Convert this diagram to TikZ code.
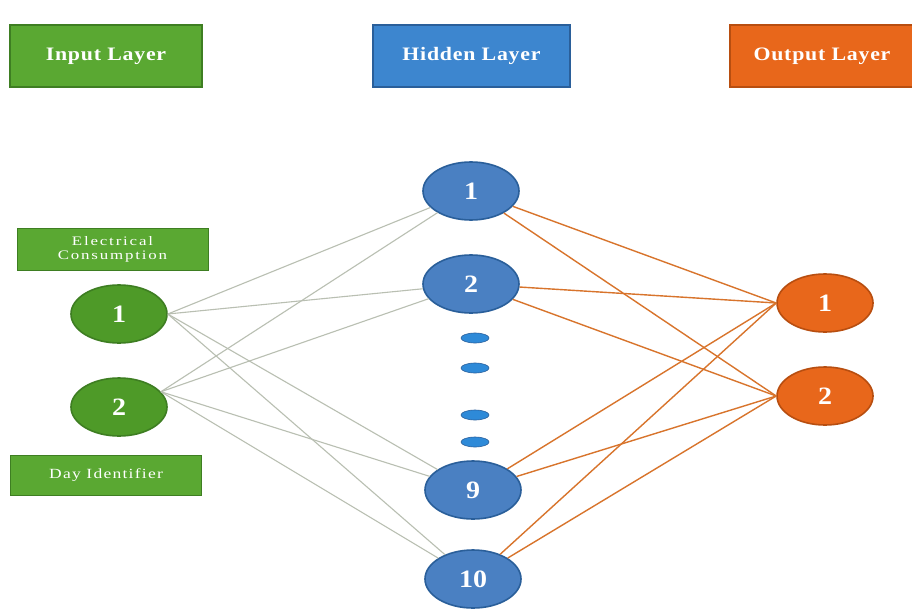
\documentclass[tikz,border=0pt]{standalone}
\usepackage{fontspec}
\setmainfont{Liberation Serif}
\usetikzlibrary{shapes.geometric}

\definecolor{ingreen}{HTML}{5AA832}
\definecolor{ingreendark}{HTML}{3E7E22}
\definecolor{nodegreen}{HTML}{4E9A28}
\definecolor{hidblue}{HTML}{3D86CF}
\definecolor{hidbluedark}{HTML}{2A5F9A}
\definecolor{nodeblue}{HTML}{4A80C2}
\definecolor{dotblue}{HTML}{2E8AD8}
\definecolor{outorange}{HTML}{E8671B}
\definecolor{outorangedark}{HTML}{B84E10}
\definecolor{linkgray}{HTML}{B9BFB2}
\definecolor{linkorange}{HTML}{D8742C}

\tikzset{
  header/.style={rectangle, minimum height=62pt, text=white,
    font=\bfseries\fontsize{19}{22}\selectfont\addfontfeatures{FakeStretch=1.15,LetterSpace=4},
    line width=1.2pt},
  tag/.style={rectangle, fill=ingreen, draw=ingreendark, line width=0.8pt,
    text=white, align=center, minimum width=191pt},
  neuron/.style={ellipse, minimum width=96pt, minimum height=58pt, inner sep=0pt,
    line width=1.6pt, text=white,
    font=\bfseries\fontsize{25}{27}\selectfont\addfontfeatures{FakeStretch=1.12}},
  innode/.style={neuron, fill=nodegreen, draw=ingreendark},
  hidnode/.style={neuron, fill=nodeblue, draw=hidbluedark},
  outnode/.style={neuron, fill=outorange, draw=outorangedark},
  gap/.style={ellipse, fill=dotblue, draw=hidbluedark, line width=0.6pt,
    minimum width=28pt, minimum height=10pt, inner sep=0pt},
  inlink/.style={draw=linkgray, line width=1.1pt},
  outlink/.style={draw=linkorange, line width=1.4pt}
}

\begin{document}
\begin{tikzpicture}[x=1pt, y=-1pt]
\useasboundingbox (0,0) rectangle (912,610);
\fill[white] (0,0) rectangle (912,610);

% layer titles
\node[header, fill=ingreen, draw=ingreendark, minimum width=192pt] (tin) at (106,56) {Input Layer};
\node[header, fill=hidblue, draw=hidbluedark, minimum width=197pt] (thid) at (471.5,56) {Hidden Layer};
\node[header, fill=outorange, draw=outorangedark, minimum width=184pt] (tout) at (822,56) {Output Layer};

% input descriptions
\node[tag, minimum height=42pt,
  font=\fontsize{13}{14}\selectfont\addfontfeatures{FakeStretch=1.3,LetterSpace=14}] (telec) at (112.5,249) {Electrical\\Consumption};
\node[tag, minimum height=40pt,
  font=\fontsize{14}{15}\selectfont\addfontfeatures{FakeStretch=1.25,LetterSpace=9}] (tday) at (106,475) {Day Identifier};

% neurons
\node[innode] (i1) at (119,314) {1};
\node[innode] (i2) at (119,407) {2};

\node[hidnode] (h1) at (471,191) {1};
\node[hidnode] (h2) at (471,284) {2};
\node[hidnode] (h9) at (473,490) {9};
\node[hidnode] (h10) at (473,579) {10};

\node[outnode] (o1) at (825,303) {1};
\node[outnode] (o2) at (825,396) {2};

% ellipsis between hidden units
\node[gap] (d1) at (475,338) {};
\node[gap] (d2) at (475,368) {};
\node[gap] (d3) at (475,415) {};
\node[gap] (d4) at (475,442) {};

% input to hidden connections
\foreach \h in {h1,h2,h9,h10} {
  \draw[inlink] (i1.east) -- (\h);
  \draw[inlink] (i2.20) -- (\h);
}

% hidden to output connections
\foreach \h in {h1,h2,h9,h10} {
  \draw[outlink] (\h) -- (o1.west);
  \draw[outlink] (\h) -- (o2.west);
}
\end{tikzpicture}
\end{document}
